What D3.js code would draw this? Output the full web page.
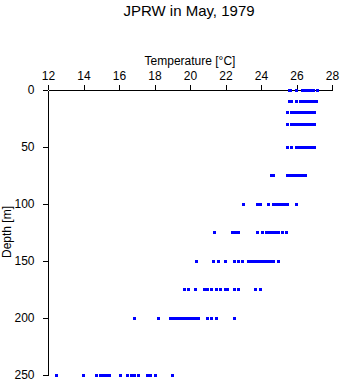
<!DOCTYPE html>
<html>
<head>
<meta charset="utf-8">
<script src="https://cdn.jsdelivr.net/npm/d3@7"></script>
<style>
  html, body { margin: 0; padding: 0; background: #fff; }
  svg text { font-family: "Liberation Sans", Arial, Helvetica, sans-serif; fill: #000; }
</style>
</head>
<body>
<svg id="chart" width="341" height="384"></svg>
<script>
const title = "JPRW in May, 1979";
const xLabel = "Temperature [\u00B0C]";
const yLabel = "Depth [m]";
const xTicks = [12, 14, 16, 18, 20, 22, 24, 26, 28];
const yTicks = [0, 50, 100, 150, 200, 250];

const depths = [0, 10, 20, 30, 50, 75, 100, 125, 150, 175, 200, 250];
const temps0   = [25.58, 25.68, 26.0, 26.36, 26.42, 26.48, 26.54, 26.6, 26.66, 26.72, 26.78, 26.84, 26.9, 26.96, 27.2];
const temps10  = [25.6, 25.7, 26.0, 26.23, 26.3, 26.36, 26.42, 26.5, 26.56, 26.62, 26.7, 26.76, 26.82, 26.9, 26.96, 27.04, 27.11];
const temps20  = [25.48, 25.7, 25.88, 26.08, 26.15, 26.22, 26.3, 26.38, 26.45, 26.52, 26.6, 26.68, 26.76, 26.84, 26.92, 27.01];
const temps30  = [25.48, 25.72, 25.8, 25.88, 25.96, 26.04, 26.12, 26.2, 26.28, 26.36, 26.44, 26.52, 26.6, 26.68, 26.76, 26.84, 26.92, 27.01];
const temps50  = [25.48, 25.7, 26.0, 26.08, 26.16, 26.24, 26.32, 26.4, 26.48, 26.56, 26.64, 26.72, 26.8, 26.88, 26.96, 27.01];
const temps75  = [24.6, 24.7, 25.49, 25.57, 25.65, 25.73, 25.81, 25.89, 25.97, 26.05, 26.13, 26.21, 26.29, 26.37, 26.45, 26.49];
const temps100 = [23.0, 23.8, 23.99, 24.4, 24.7, 24.78, 24.86, 24.94, 25.02, 25.1, 25.18, 25.26, 25.34, 25.42, 25.48, 25.99];
const temps125 = [21.37, 22.37, 22.51, 22.65, 22.74, 23.8, 24.08, 24.31, 24.4, 24.5, 24.6, 24.7, 24.8, 24.9, 24.99, 25.21, 25.42];
const temps150 = [20.39, 21.3, 21.6, 22.0, 22.48, 22.76, 22.95, 23.27, 23.35, 23.45, 23.55, 23.65, 23.75, 23.85, 23.95, 24.05, 24.15, 24.25, 24.35, 24.45, 24.55, 24.62, 24.7, 25.0];
const temps175 = [19.69, 19.89, 20.32, 20.79, 20.97, 21.2, 21.48, 21.73, 22.0, 22.12, 22.48, 22.76, 23.67, 23.99];
const temps200 = [16.88, 18.2, 18.9, 19.05, 19.2, 19.35, 19.5, 19.65, 19.8, 19.95, 20.1, 20.25, 20.4, 20.48, 20.97, 21.2, 21.48, 22.5];
const temps250 = [12.48, 13.99, 14.76, 14.93, 15.1, 15.27, 15.49, 16.06, 16.48, 16.68, 16.85, 17.1, 17.58, 17.77, 18.08, 19.01];

const tempsByDepth = [temps0, temps10, temps20, temps30, temps50, temps75, temps100, temps125, temps150, temps175, temps200, temps250];
const points = [];
depths.forEach((d, i) => tempsByDepth[i].forEach(t => points.push({ depth: d, temp: t })));

const svg = d3.select("#chart");
const x = d3.scaleLinear().domain([12, 28]).range([48, 332]);
const y = d3.scaleLinear().domain([0, 250]).range([90, 375]);

svg.append("text")
  .attr("x", 189).attr("y", 15.5)
  .attr("text-anchor", "middle")
  .style("font-size", "15px")
  .text(title);

const xAxis = svg.append("g")
  .attr("transform", "translate(0,90)")
  .call(d3.axisTop(x).tickValues(xTicks).tickFormat(d3.format("d")).tickSize(5).tickSizeOuter(0).tickPadding(5));

const yAxis = svg.append("g")
  .attr("transform", "translate(48,0)")
  .call(d3.axisLeft(y).tickValues(yTicks).tickFormat(d3.format("d")).tickSize(5).tickSizeOuter(0).tickPadding(8.5));

[xAxis, yAxis].forEach(g => {
  g.selectAll("text").style("font-size", "12px").attr("fill", "#000");
  g.selectAll("line").attr("stroke", "#000").attr("shape-rendering", "crispEdges");
  g.select(".domain").attr("stroke", "#000").attr("shape-rendering", "crispEdges");
});

svg.append("text")
  .attr("x", 190).attr("y", 64.5)
  .attr("text-anchor", "middle")
  .style("font-size", "12px")
  .text(xLabel);

svg.append("text")
  .attr("transform", "translate(10.5,232) rotate(-90)")
  .attr("text-anchor", "middle")
  .style("font-size", "12px")
  .text(yLabel);

svg.append("g")
  .selectAll("rect")
  .data(points)
  .enter().append("rect")
  .attr("x", d => x(d.temp) - 1.5)
  .attr("y", d => y(d.depth) - 1.5)
  .attr("width", 3)
  .attr("height", 3)
  .attr("fill", "#0000ff")
  .attr("shape-rendering", "crispEdges");
</script>
</body>
</html>
